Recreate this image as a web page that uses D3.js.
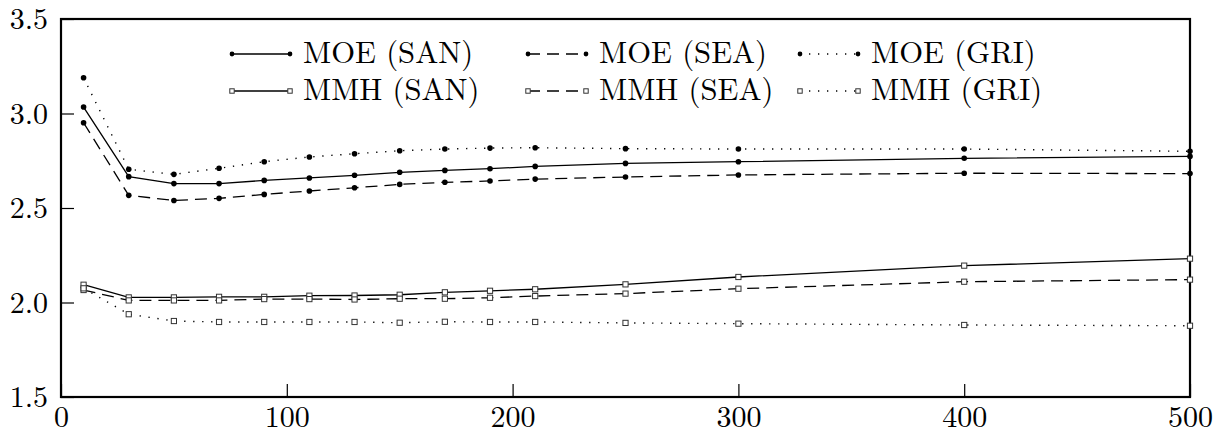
<!DOCTYPE html>
<html>
<head>
<meta charset="utf-8">
<script src="https://cdn.jsdelivr.net/npm/d3@7"></script>
<style>
  html, body { margin: 0; padding: 0; background: #fff; }
  svg { display: block; }
</style>
</head>
<body>
<svg id="chart" width="1223" height="435"></svg>
<script>
// Sample sizes along the x axis
const sizes = [10, 30, 50, 70, 90, 110, 130, 150, 170, 190, 210, 250, 300, 400, 500];

// Series values
const moeSan = [3.034, 2.666, 2.629, 2.629, 2.646, 2.659, 2.673, 2.689, 2.699, 2.708, 2.720, 2.736, 2.745, 2.763, 2.773];
const moeSea = [2.951, 2.567, 2.540, 2.551, 2.572, 2.590, 2.607, 2.625, 2.636, 2.643, 2.653, 2.664, 2.675, 2.684, 2.682];
const moeGri = [3.189, 2.705, 2.678, 2.710, 2.745, 2.770, 2.787, 2.803, 2.812, 2.817, 2.819, 2.814, 2.812, 2.812, 2.800];
const mmhSan = [2.094, 2.027, 2.027, 2.030, 2.030, 2.036, 2.037, 2.041, 2.054, 2.062, 2.070, 2.096, 2.135, 2.195, 2.232];
const mmhSea = [2.066, 2.011, 2.011, 2.011, 2.018, 2.018, 2.016, 2.020, 2.020, 2.025, 2.034, 2.047, 2.073, 2.110, 2.121];
const mmhGri = [2.075, 1.938, 1.902, 1.897, 1.897, 1.897, 1.897, 1.893, 1.898, 1.897, 1.897, 1.892, 1.888, 1.881, 1.877];

// Legend labels, in legend order (row by row)
const seriesNames = ["MOE (SAN)", "MOE (SEA)", "MOE (GRI)", "MMH (SAN)", "MMH (SEA)", "MMH (GRI)"];

// Tick values
const xTicks = [0, 100, 200, 300, 400, 500];
const yTicks = [1.5, 2.0, 2.5, 3.0, 3.5];

const series = [
  { name: seriesNames[0], values: moeSan, marker: "circle", style: "solid" },
  { name: seriesNames[1], values: moeSea, marker: "circle", style: "dashed" },
  { name: seriesNames[2], values: moeGri, marker: "circle", style: "dotted" },
  { name: seriesNames[3], values: mmhSan, marker: "square", style: "solid" },
  { name: seriesNames[4], values: mmhSea, marker: "square", style: "dashed" },
  { name: seriesNames[5], values: mmhGri, marker: "square", style: "dotted" }
];

const dashes = { solid: null, dashed: "12,7", dotted: "1.3,7.7" };

// Pick the first installed serif face; fall back to a sans face
const ctx = document.createElement("canvas").getContext("2d");
function textWidth(font, str) { ctx.font = font; return ctx.measureText(str).width; }
function installed(name) {
  const probe = "MOE (SEA) 0123456789 wmil";
  return ["monospace", "sans-serif"].some(base =>
    textWidth(`100px "${name}", ${base}`, probe) !== textWidth(`100px ${base}`, probe));
}
const candidates = ["Latin Modern Roman", "CMU Serif", "Liberation Serif", "DejaVu Serif",
  "Noto Serif", "Tinos", "FreeSerif", "Nimbus Roman", "Times New Roman", "Liberation Sans"];
const faceName = candidates.find(installed) || "Liberation Sans";
const face = `"${faceName}", sans-serif`;

// Size text so labels keep their printed widths
const tickSize = Math.min(30, 45 / (textWidth(`100px ${face}`, "100") / 100));
const legendSize = Math.min(31, 168 / (textWidth(`100px ${face}`, "MOE (SEA)") / 100));

const svg = d3.select("#chart");
const plotLeft = 61, plotRight = 1190, plotTop = 19, plotBottom = 397;

const x = d3.scaleLinear().domain([0, 500]).range([plotLeft, plotRight]);
const y = d3.scaleLinear().domain([1.5, 3.5]).range([plotBottom, plotTop]);

// Axes with inward ticks
const xAxis = d3.axisBottom(x).tickValues(xTicks).tickFormat(d3.format("d"))
  .tickSizeInner(-13).tickSizeOuter(0).tickPadding(9);
const yAxis = d3.axisLeft(y).tickValues(yTicks).tickFormat(d3.format(".1f"))
  .tickSizeInner(-13).tickSizeOuter(0).tickPadding(13);

const gx = svg.append("g").attr("transform", `translate(0,${plotBottom})`).call(xAxis);
const gy = svg.append("g").attr("transform", `translate(${plotLeft},0)`).call(yAxis);
[gx, gy].forEach(g => {
  g.attr("font-family", null).attr("font-size", null);
  g.select(".domain").remove();
  g.selectAll(".tick line").attr("stroke", "#000").attr("stroke-width", 1.2);
  g.selectAll(".tick text").style("font-family", face).style("font-size", tickSize + "px").attr("fill", "#000");
});

// Plot frame
svg.append("rect")
  .attr("x", plotLeft).attr("y", plotTop)
  .attr("width", plotRight - plotLeft).attr("height", plotBottom - plotTop)
  .attr("fill", "none").attr("stroke", "#000").attr("stroke-width", 2.2);

const line = d3.line().x((d, i) => x(sizes[i])).y(d => y(d));

function drawMarker(g, type, cx, cy, s) {
  if (type === "circle") {
    g.append("circle").attr("cx", cx).attr("cy", cy).attr("r", 2.8 * s).attr("fill", "#000");
  } else {
    const h = 2.6 * s;
    g.append("rect").attr("x", cx - h).attr("y", cy - h)
      .attr("width", 2 * h).attr("height", 2 * h)
      .attr("fill", "#fff").attr("stroke", "#333").attr("stroke-width", 1);
  }
}

// Lines and markers
series.forEach(s => {
  const g = svg.append("g");
  g.append("path").datum(s.values)
    .attr("d", line)
    .attr("fill", "none").attr("stroke", "#000")
    .attr("stroke-width", s.style === "dotted" ? 1.4 : 1.3)
    .attr("stroke-dasharray", dashes[s.style]);
  s.values.forEach((v, i) => drawMarker(g, s.marker, x(sizes[i]), y(v), 1));
});

// Legend: two rows, three columns
const colX = [232, 528, 800];
const rowY = [54, 91];
const sampleLen = 58;
series.forEach((s, k) => {
  const col = k % 3, row = Math.floor(k / 3);
  const g = svg.append("g").attr("transform", `translate(${colX[col]},${rowY[row]})`);
  g.append("line").attr("x1", 0).attr("x2", sampleLen).attr("y1", 0).attr("y2", 0)
    .attr("stroke", "#000").attr("stroke-width", 1.3)
    .attr("stroke-dasharray", dashes[s.style]);
  drawMarker(g, s.marker, 0, 0, 0.85);
  drawMarker(g, s.marker, sampleLen, 0, 0.85);
  g.append("text").attr("x", sampleLen + 13).attr("y", 0).attr("dy", "0.28em")
    .style("font-family", face).style("font-size", legendSize + "px").attr("fill", "#000")
    .text(s.name);
});
</script>
</body>
</html>
